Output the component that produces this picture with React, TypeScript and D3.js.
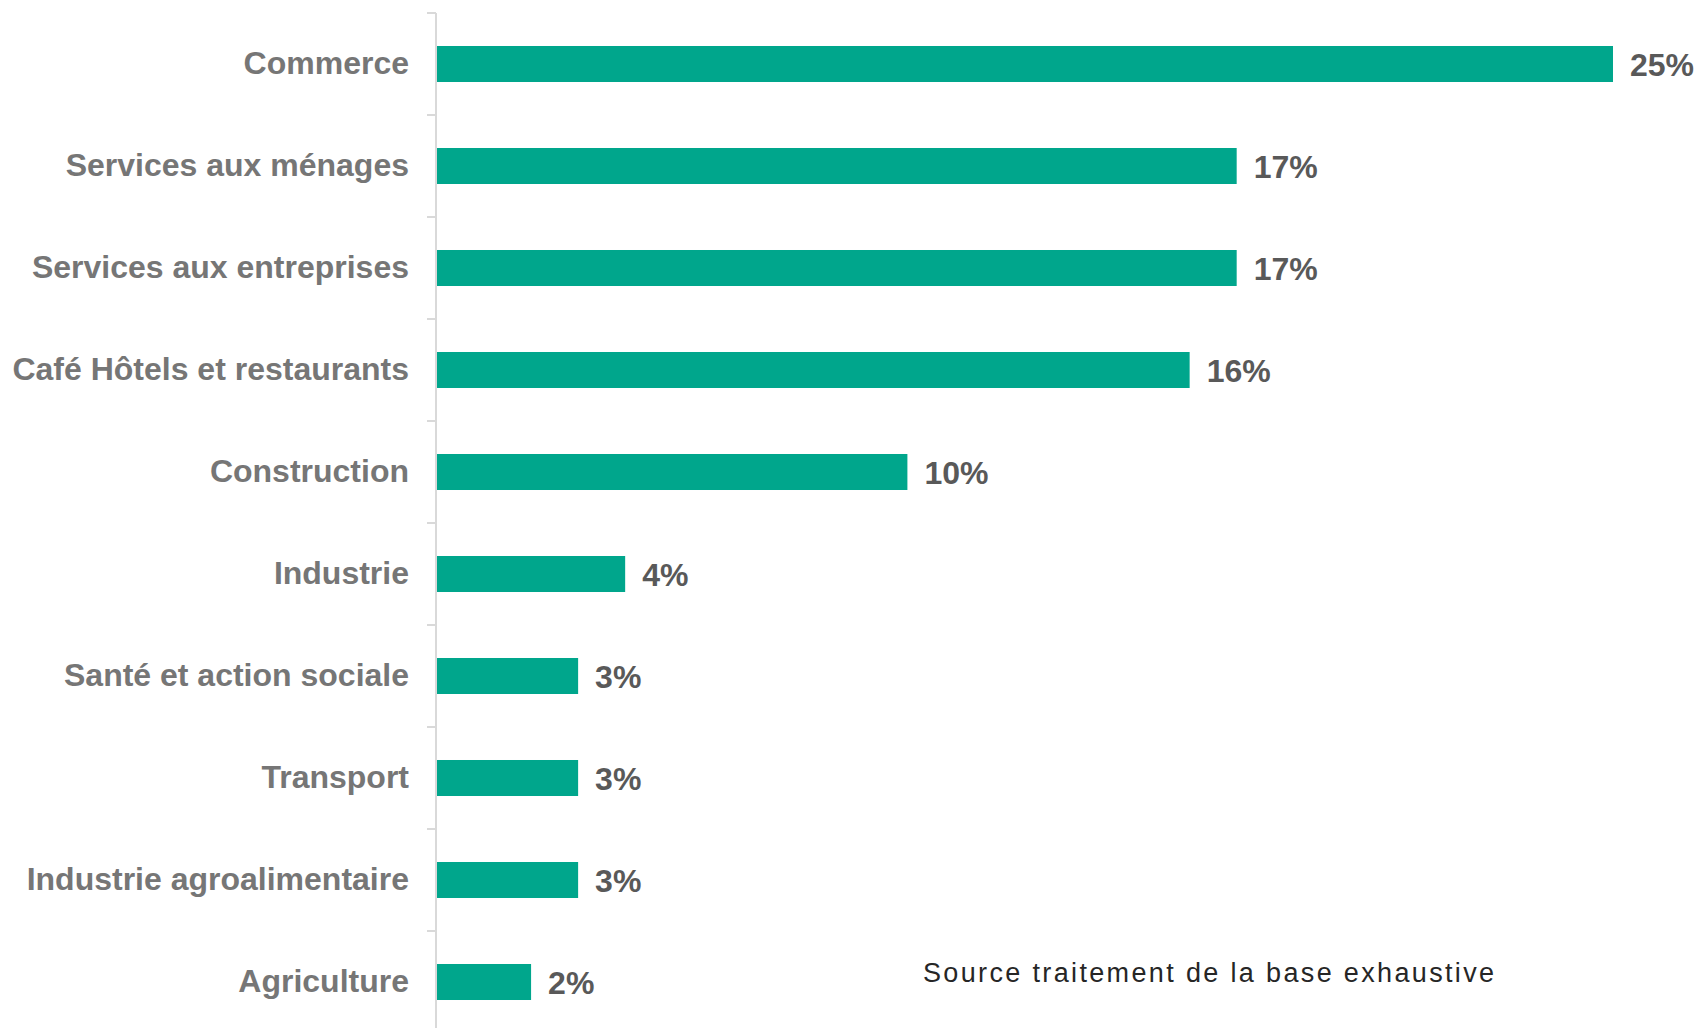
import React from "react";
import * as d3 from "d3";

const categories = [
  "Commerce",
  "Services aux ménages",
  "Services aux entreprises",
  "Café Hôtels et restaurants",
  "Construction",
  "Industrie",
  "Santé et action sociale",
  "Transport",
  "Industrie agroalimentaire",
  "Agriculture",
];
const values = [25, 17, 17, 16, 10, 4, 3, 3, 3, 2];
const valueLabels = ["25%", "17%", "17%", "16%", "10%", "4%", "3%", "3%", "3%", "2%"];
const sourceText = "Source traitement de la base exhaustive";

const W = 1699;
const H = 1028;
const FONT = "'Liberation Sans', Arial, sans-serif";

export default function App() {
  const y = d3
    .scaleBand<string>()
    .domain(categories)
    .range([13, 1033])
    .paddingInner(0.647)
    .paddingOuter(0.3235);
  const x = d3.scaleLinear().domain([0, 25]).range([437, 1613]);
  const axisX = 436;
  const boundaries = d3.range(categories.length + 1).map((i) => 13 + i * y.step());

  return (
    <svg
      width={W}
      height={H}
      style={{ position: "absolute", left: 0, top: 0, background: "#fff" }}
      fontFamily={FONT}
    >
      <line x1={axisX} x2={axisX} y1={13} y2={H} stroke="#d9d9d9" strokeWidth={2} />
      {boundaries.map((b, i) => (
        <line key={i} x1={427} x2={axisX} y1={b} y2={b} stroke="#d9d9d9" strokeWidth={2} />
      ))}
      {categories.map((c, i) => {
        const y0 = y(c)!;
        const cy = y0 + y.bandwidth() / 2;
        return (
          <g key={c}>
            <rect x={x(0)} y={y0} width={x(values[i]) - x(0)} height={y.bandwidth()} fill="#00A68C" />
            <text
              x={409}
              y={cy}
              dy="0.31em"
              textAnchor="end"
              fontSize={32}
              fontWeight="bold"
              fill="#767676"
            >
              {c}
            </text>
            <text
              x={x(values[i]) + 17}
              y={cy}
              dy="0.36em"
              fontSize={32}
              fontWeight="bold"
              fill="#595959"
            >
              {valueLabels[i]}
            </text>
          </g>
        );
      })}
      <text x={923} y={982} fontSize={27} fill="#262626" letterSpacing={2.35}>
        {sourceText}
      </text>
    </svg>
  );
}
